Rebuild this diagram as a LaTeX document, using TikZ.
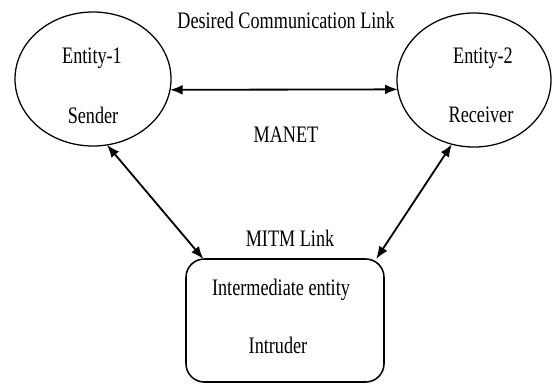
\documentclass[tikz,border=0pt]{standalone}
\usepackage{fontspec}
\setmainfont[FakeStretch=0.77]{Liberation Serif}
\usepackage{tikz}
\usetikzlibrary{%
  arrows.meta,%
  shapes.geometric,%
}

\begin{document}
\begin{tikzpicture}[font=\fontsize{16.8}{19}\selectfont,
    entity/.style={draw, ellipse, line width=0.9pt, inner sep=0pt, outer sep=0pt},
    link/.style={{Latex[length=9pt,width=7pt]}-{Latex[length=9pt,width=7pt]}, line width=1.3pt}]

      \useasboundingbox (0, 0) rectangle (13.8, -9.575);

      \node [entity, minimum width=3.9cm, minimum height=3.35cm] (sender) at (2.325, -1.975) {};
      \node (ent1) at (2.3, -1.45) {Entity-1};
      \node (snd) at (2.325, -2.875) {Sender};

      \node [entity, minimum width=3.85cm, minimum height=3.35cm] (receiver) at (11.85, -2.0) {};
      \node (ent2) at (12.075, -1.45) {Entity-2};
      \node (rcv) at (12.025, -2.875) {Receiver};

      \node [draw, rounded corners=13pt, line width=1.1pt, minimum width=4.95cm,
             minimum height=3.075cm, inner sep=0pt, outer sep=0pt] (intruder) at (7.125, -8.0125) {};
      \node (inter) at (7.025, -7.25) {Intermediate entity};
      \node (intr) at (6.95, -8.625) {Intruder};

      \node (desired) at (7.15, -0.5) {Desired Communication Link};
      \node (manet) at (7.15, -3.375) {MANET};
      \node (mitm) at (7.25, -5.95) {MITM Link};

      \draw [link] (sender.-8) -- (receiver.187.5);
      \draw [link] (sender.-78) -- (intruder.143.4);
      \draw [link] (receiver.251) -- (intruder.34.7);
    \end{tikzpicture}
\end{document}
